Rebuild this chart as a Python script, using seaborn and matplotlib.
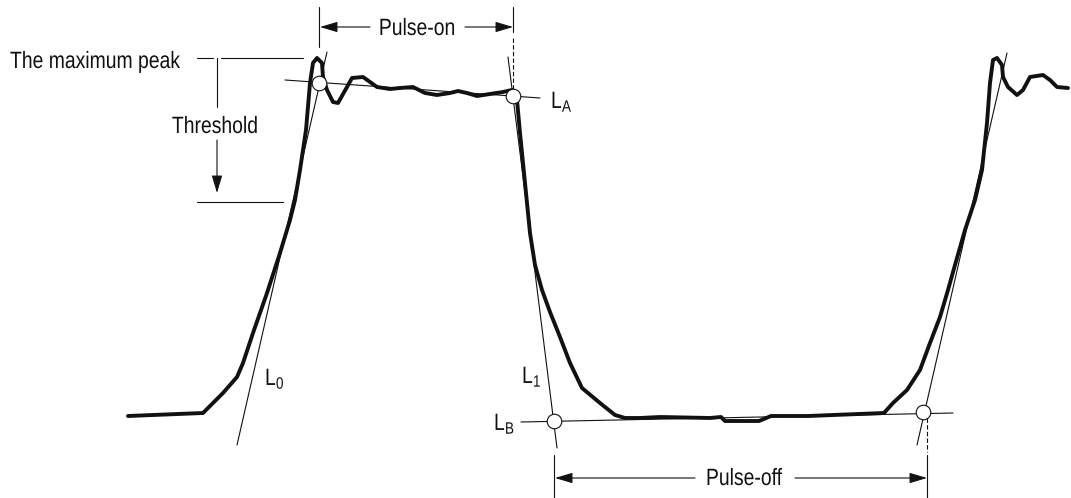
import matplotlib
matplotlib.use("Agg")
import matplotlib.pyplot as plt
import matplotlib.patheffects as pe
from matplotlib.transforms import Affine2D
import seaborn as sns
import pandas as pd

# ---------------- data (pixel space of the diagram) ----------------
wave_x = [128, 203, 223, 237, 243, 253, 267, 280, 290, 295, 300, 306, 310, 313,
          317, 322, 323, 327, 333, 338, 347, 352, 363, 370, 377, 390, 400, 413,
          425, 437, 450, 458, 467, 477, 490, 503, 512, 517, 520, 525, 530, 535,
          542, 550, 560, 570, 582, 600, 615, 625, 640, 660, 710, 721, 725, 759,
          771, 808, 884, 893, 907, 920, 930, 940, 948, 955, 965, 975, 982, 987,
          990, 993, 997, 1002, 1003, 1008, 1017, 1023, 1030, 1043, 1050, 1057, 1068]
wave_y = [416, 413, 393, 377, 363, 333, 293, 253, 220, 200, 170, 130, 83, 63,
          58, 63, 77, 90, 102, 103, 87, 78, 77, 82, 87, 89, 88, 87,
          93, 95, 93, 91, 93, 96, 94, 92, 90, 100, 133, 183, 233, 265,
          290, 312, 337, 363, 388, 403, 415, 418, 418, 417, 418, 417, 421, 421,
          416, 416, 413, 403, 390, 370, 343, 317, 290, 265, 230, 200, 170, 123,
          83, 60, 58, 65, 77, 87, 95, 90, 77, 75, 80, 87, 88]

# tangent lines: start / end
tan_names = ["LA", "L0", "L1", "LB", "LR"]
tan_x0 = [285, 327, 508, 521, 1007]
tan_y0 = [80, 52, 57, 422, 53]
tan_x1 = [540, 237, 557, 953, 917]
tan_y1 = [98, 445, 448, 413, 445]

# intersection circles
circle_x = [319, 513, 554, 923]
circle_y = [83, 96, 421, 412]

# solid guide segments
guide_x0 = [197, 221, 217, 197, 319, 513, 554, 927]
guide_y0 = [58, 58, 58, 202, 7, 7, 455, 455]
guide_x1 = [213, 303, 217, 283, 319, 513, 554, 927]
guide_y1 = [58, 58, 107, 202, 47, 32, 498, 498]

# dashed guide segments
dash_x0 = [513, 927]
dash_y0 = [38, 418]
dash_x1 = [513, 927]
dash_y1 = [90, 452]

# arrows (tail -> head)
arr_x0 = [370, 465, 217, 695, 795]
arr_y0 = [27, 27, 140, 478, 478]
arr_x1 = [320, 513, 217, 555, 927]
arr_y1 = [27, 27, 193, 478, 478]

# text labels
label_text = ["The maximum peak", "Threshold", "Pulse-on", "Pulse-off"]
label_x = [10, 215, 417, 744]
label_y = [68, 133, 35, 485]
label_ha = ["left", "center", "center", "center"]

sub_text = [r"$\mathregular{L_A}$", r"$\mathregular{L_0}$",
            r"$\mathregular{L_1}$", r"$\mathregular{L_B}$"]
sub_x = [551, 265, 522, 494]
sub_y = [108, 385, 383, 430]


# narrow (condensed) look for the real text: squeeze glyphs horizontally
class Squeeze(pe.AbstractPathEffect):
    def __init__(self, sx, x0):
        super().__init__()
        self.sx = sx
        self.x0 = x0

    def draw_path(self, renderer, gc, tpath, affine, rgbFace=None):
        sq = Affine2D().translate(-self.x0, 0).scale(self.sx, 1).translate(self.x0, 0)
        renderer.draw_path(gc, tpath, affine + sq, rgbFace)


# ---------------- drawing ----------------
sns.set_theme(style="white")
plt.rcParams["font.family"] = ["Liberation Sans", "DejaVu Sans"]
plt.rcParams["mathtext.default"] = "regular"

W, H = 1071, 498
fig = plt.figure(figsize=(W / 100, H / 100), dpi=100)
ax = fig.add_axes([0, 0, 1, 1])

thin = 0.8
ink = "#111111"

# waveform
wave = pd.DataFrame({"x": wave_x, "y": wave_y})
sns.lineplot(data=wave, x="x", y="y", sort=False, estimator=None, ax=ax,
             color=ink, lw=2.8, zorder=3)

# circles
circ = pd.DataFrame({"x": circle_x, "y": circle_y})
sns.scatterplot(data=circ, x="x", y="y", ax=ax, s=110, facecolor="white",
                edgecolor=ink, linewidth=0.8, zorder=5)

ax.set_xlim(0, W)
ax.set_ylim(H, 0)
ax.axis("off")

# tangents
for i in range(len(tan_x0)):
    ax.plot([tan_x0[i], tan_x1[i]], [tan_y0[i], tan_y1[i]], color=ink, lw=thin, zorder=2)

# guides
for i in range(len(guide_x0)):
    ax.plot([guide_x0[i], guide_x1[i]], [guide_y0[i], guide_y1[i]], color=ink, lw=thin, zorder=2)
for i in range(len(dash_x0)):
    ax.plot([dash_x0[i], dash_x1[i]], [dash_y0[i], dash_y1[i]], color=ink, lw=thin,
            dashes=(4, 2), zorder=2)

# arrows
for i in range(len(arr_x0)):
    ax.annotate("", xy=(arr_x1[i], arr_y1[i]), xytext=(arr_x0[i], arr_y0[i]),
                arrowprops=dict(arrowstyle="-|>,head_length=0.77,head_width=0.23",
                                color=ink, lw=thin, shrinkA=0, shrinkB=0,
                                mutation_scale=14), zorder=4)

SQ = 0.82
for t, x, y, ha in zip(label_text, label_x, label_y, label_ha):
    ax.text(x, y, t, ha=ha, va="baseline", fontsize=17, color=ink,
            path_effects=[Squeeze(SQ, x)])
for t, x, y in zip(sub_text, sub_x, sub_y):
    ax.text(x, y, t, ha="left", va="baseline", fontsize=17, color=ink,
            path_effects=[Squeeze(SQ, x)])

ax.set_xlabel("")
ax.set_ylabel("")
fig.savefig("out.png", dpi=100)
